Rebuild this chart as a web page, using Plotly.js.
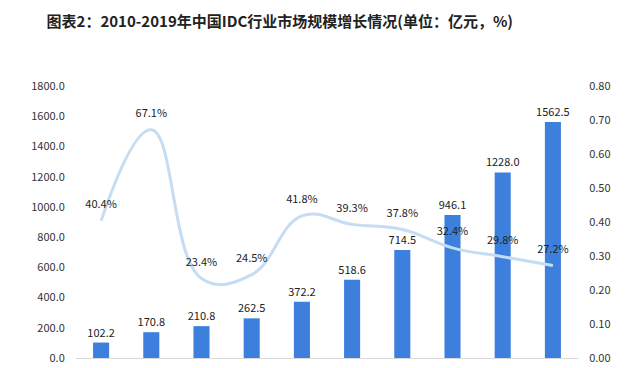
<!DOCTYPE html>
<html>
<head>
<meta charset="utf-8">
<script src="https://cdn.plot.ly/plotly-3.0.1.min.js"></script>
<style>html,body{margin:0;padding:0;background:#fff;}#chart{width:640px;height:368px;}</style>
</head>
<body>
<div id="chart"></div>
<script>
const years = ['2010','2011','2012','2013','2014','2015','2016','2017','2018','2019'];
const marketSize = [102.2, 170.8, 210.8, 262.5, 372.2, 518.6, 714.5, 946.1, 1228.0, 1562.5];
const growthRate = [0.404, 0.671, 0.234, 0.245, 0.418, 0.393, 0.378, 0.324, 0.298, 0.272];
const leftTicks = [0,200,400,600,800,1000,1200,1400,1600,1800];
const rightTicks = [0,0.1,0.2,0.3,0.4,0.5,0.6,0.7,0.8];

const font = "'Noto Sans CJK SC', 'Noto Sans', sans-serif";

const bars = {
  type: 'bar', x: years, y: marketSize, yaxis: 'y',
  marker: {color: '#3c7fdc'},
  text: marketSize, texttemplate: '%{y:.1f}', textposition: 'outside',
  constraintext: 'none',
  textfont: {family: font, size: 11, color: '#222'},
  cliponaxis: false, hoverinfo: 'skip'
};
const line = {
  type: 'scatter', mode: 'lines+markers+text', x: years, y: growthRate, yaxis: 'y2',
  line: {color: '#c6dcf2', width: 3, shape: 'spline', smoothing: 1.2},
  marker: {size: 14, color: 'rgba(0,0,0,0)'},
  text: growthRate, texttemplate: '%{y:.1%}', textposition: 'top center',
  textfont: {family: font, size: 11, color: '#222'},
  cliponaxis: false, hoverinfo: 'skip'
};

const layout = {
  width: 640, height: 368,
  margin: {l: 76, r: 62, t: 86, b: 10},
  paper_bgcolor: '#fff', plot_bgcolor: '#fff',
  showlegend: false,
  bargap: 0.68,
  title: {text: '<b>图表2：2010-2019年中国IDC行业市场规模增长情况(单位：亿元，%)</b>',
          font: {family: font, size: 15, color: '#222'},
          x: 0.406, xanchor: 'center', xref: 'paper', y: 0.94, yanchor: 'middle', yref: 'container'},
  xaxis: {type: 'category', range: [-0.5, 9.5], showticklabels: false, ticks: '', showgrid: false,
          showline: true, linecolor: '#d9d9d9', linewidth: 1, zeroline: false},
  yaxis: {range: [0, 1800], tickvals: leftTicks, tickformat: '.1f', showgrid: false, zeroline: false,
          showline: false, ticks: 'outside', ticklen: 8, tickcolor: 'rgba(0,0,0,0)',
          tickfont: {family: font, size: 11, color: '#333'}},
  yaxis2: {range: [0, 0.8], tickvals: rightTicks, tickformat: '.2f', overlaying: 'y', side: 'right',
           showgrid: false, zeroline: false, showline: false, ticks: 'outside', ticklen: 8,
           tickcolor: 'rgba(0,0,0,0)', tickfont: {family: font, size: 11, color: '#333'}}
};

Plotly.newPlot('chart', [bars, line], layout, {staticPlot: true, displayModeBar: false});
</script>
</body>
</html>
